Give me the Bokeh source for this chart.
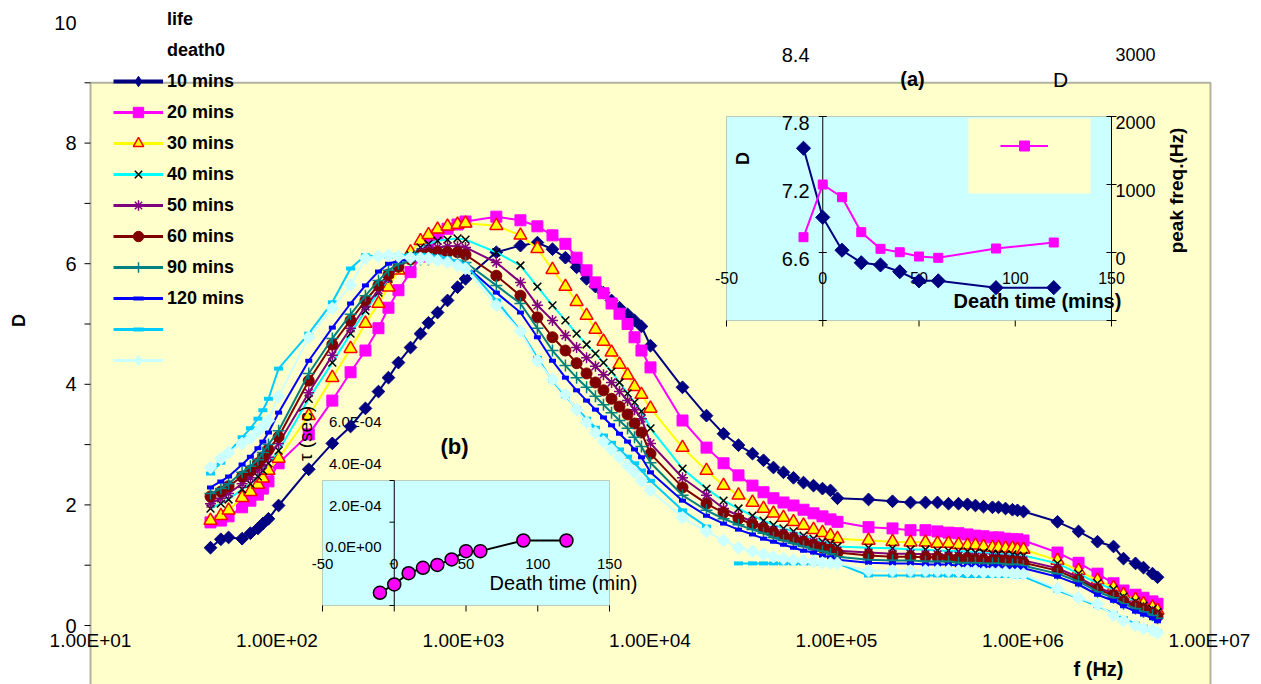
from math import pi, nan
import numpy as np
from bokeh.plotting import figure
from bokeh.models import (Range1d, LinearScale, BoxAnnotation, Legend, LegendItem)
from bokeh.core.properties import value
from bokeh.embed import file_html
from bokeh.resources import INLINE

FONT = "Liberation Sans"

# ------------------------------------------------------------------ data
# measuring frequencies (Hz): low sweep, mid sweep, high sweep
freq_hz = [44, 50, 55, 65, 72, 79, 84, 90, 102, 148, 198, 248, 298, 350, 396, 448, 520, 588, 649, 726, 821, 929, 1025,
           1500, 2020, 2490, 3000, 3520, 4040, 4570, 5100, 5630, 6220, 6860, 7580, 8260, 9000, 10060, 14940, 20090,
           24790, 29820, 35440, 40610, 45920, 51960, 58800, 66550, 75280, 84120, 92850, 101200,
           148500, 199700, 249400, 300000, 348000, 398600, 451000, 504000, 556000, 614000, 686000, 739000, 806000,
           878000, 934000, 1006000, 1531000, 1985000, 2509000, 3057000, 3459000, 4011000, 4426000, 4947000, 5263000]

d_10min = [1.29, 1.43, 1.46, 1.44, 1.53, 1.61, 1.69, 1.77, 1.99, 2.59, 3.02, 3.30, 3.60, 3.88, 4.11, 4.36, 4.61, 4.84, 5.02, 5.19, 5.39, 5.61, 5.75,
           6.19, 6.30, 6.35, 6.24, 6.10, 5.94, 5.75, 5.62, 5.52, 5.39, 5.27, 5.16, 5.06, 4.96, 4.64, 3.95, 3.48, 3.18, 2.99, 2.85, 2.74, 2.62, 2.54, 2.45, 2.37, 2.32, 2.27, 2.24, 2.11,
           2.09, 2.06, 2.04, 2.04, 2.04, 2.02, 2.02, 2.01, 1.99, 1.97, 1.96, 1.96, 1.94, 1.92, 1.91, 1.89, 1.72, 1.56, 1.39, 1.31, 1.11, 1.03, 0.96, 0.86, 0.80]
d_20min = [1.71, 1.74, 1.81, 1.96, 2.07, 2.17, 2.27, 2.39, 2.69, 3.17, 3.73, 4.20, 4.56, 4.93, 5.27, 5.56, 5.86, 6.12, 6.32, 6.48, 6.58, 6.65, 6.70,
           6.78, 6.72, 6.62, 6.47, 6.33, 6.10, 5.89, 5.69, 5.51, 5.34, 5.17, 5.00, 4.78, 4.56, 4.28, 3.40, 2.95, 2.69, 2.49, 2.32, 2.21, 2.11, 2.04, 1.99, 1.92, 1.86, 1.81, 1.76, 1.72,
           1.63, 1.61, 1.58, 1.58, 1.56, 1.54, 1.53, 1.51, 1.49, 1.48, 1.46, 1.46, 1.44, 1.43, 1.43, 1.41, 1.21, 1.04, 0.86, 0.70, 0.58, 0.51, 0.46, 0.40, 0.36]
d_30min = [1.74, 1.82, 1.91, 2.12, 2.22, 2.34, 2.44, 2.57, 2.77, 3.48, 4.11, 4.59, 5.01, 5.34, 5.61, 5.89, 6.19, 6.38, 6.48, 6.57, 6.62, 6.65, 6.67,
           6.63, 6.47, 6.25, 5.90, 5.62, 5.37, 5.14, 4.91, 4.71, 4.53, 4.33, 4.15, 3.96, 3.83, 3.60, 2.95, 2.57, 2.32, 2.16, 2.04, 1.94, 1.86, 1.79, 1.72, 1.66, 1.59, 1.54, 1.49, 1.44,
           1.41, 1.39, 1.38, 1.38, 1.36, 1.36, 1.34, 1.33, 1.33, 1.31, 1.29, 1.29, 1.28, 1.28, 1.26, 1.26, 1.08, 0.91, 0.75, 0.63, 0.51, 0.43, 0.36, 0.30, 0.25]
d_40min = [1.94, 2.02, 2.09, 2.26, 2.35, 2.47, 2.57, 2.69, 2.90, 3.76, 4.36, 4.84, 5.22, 5.52, 5.75, 5.95, 6.14, 6.27, 6.33, 6.38, 6.40, 6.42, 6.40,
           6.19, 5.97, 5.62, 5.31, 5.06, 4.84, 4.66, 4.51, 4.36, 4.21, 4.03, 3.85, 3.70, 3.55, 3.27, 2.60, 2.27, 2.07, 1.94, 1.82, 1.74, 1.67, 1.61, 1.56, 1.49, 1.44, 1.39, 1.36, 1.31,
           1.29, 1.28, 1.26, 1.26, 1.24, 1.24, 1.23, 1.23, 1.21, 1.21, 1.19, 1.19, 1.18, 1.18, 1.16, 1.16, 1.03, 0.86, 0.70, 0.60, 0.48, 0.40, 0.33, 0.27, 0.22]
d_50min = [2.02, 2.11, 2.19, 2.35, 2.45, 2.57, 2.67, 2.79, 3.02, 3.86, 4.48, 4.93, 5.29, 5.56, 5.77, 5.94, 6.09, 6.19, 6.24, 6.27, 6.29, 6.29, 6.27,
           6.02, 5.69, 5.31, 5.06, 4.81, 4.61, 4.44, 4.30, 4.16, 4.03, 3.88, 3.73, 3.58, 3.43, 3.02, 2.45, 2.16, 1.94, 1.82, 1.72, 1.64, 1.58, 1.53, 1.48, 1.43, 1.38, 1.33, 1.29, 1.24,
           1.21, 1.19, 1.19, 1.18, 1.18, 1.16, 1.16, 1.14, 1.14, 1.13, 1.13, 1.11, 1.11, 1.09, 1.09, 1.08, 0.95, 0.80, 0.63, 0.53, 0.43, 0.35, 0.30, 0.23, 0.18]
d_60min = [2.14, 2.22, 2.31, 2.47, 2.57, 2.69, 2.79, 2.92, 3.13, 4.06, 4.66, 5.06, 5.39, 5.64, 5.82, 5.95, 6.07, 6.14, 6.17, 6.19, 6.19, 6.19, 6.15,
           5.80, 5.47, 5.11, 4.78, 4.56, 4.35, 4.18, 4.03, 3.90, 3.76, 3.63, 3.50, 3.35, 3.20, 2.85, 2.29, 2.02, 1.87, 1.77, 1.68, 1.61, 1.54, 1.49, 1.44, 1.39, 1.34, 1.29, 1.26, 1.21,
           1.16, 1.14, 1.14, 1.13, 1.13, 1.11, 1.11, 1.11, 1.09, 1.09, 1.08, 1.08, 1.08, 1.06, 1.06, 1.04, 0.91, 0.76, 0.60, 0.50, 0.40, 0.32, 0.27, 0.20, 0.15]
d_90min = [2.19, 2.27, 2.35, 2.54, 2.64, 2.75, 2.87, 3.00, 3.23, 4.18, 4.76, 5.16, 5.47, 5.72, 5.89, 6.00, 6.05, 6.07, 6.07, 6.07, 6.07, 6.05, 6.02,
           5.64, 5.34, 4.93, 4.56, 4.31, 4.11, 3.95, 3.80, 3.66, 3.53, 3.40, 3.27, 3.12, 2.97, 2.70, 2.16, 1.91, 1.77, 1.67, 1.59, 1.53, 1.46, 1.41, 1.36, 1.31, 1.26, 1.23, 1.19, 1.14,
           1.09, 1.08, 1.08, 1.06, 1.06, 1.06, 1.04, 1.04, 1.04, 1.03, 1.03, 1.03, 1.01, 1.01, 1.01, 0.99, 0.86, 0.73, 0.56, 0.46, 0.36, 0.28, 0.23, 0.17, 0.12]
d_120min = [2.29, 2.39, 2.47, 2.67, 2.80, 2.94, 3.05, 3.20, 3.53, 4.39, 4.94, 5.34, 5.64, 5.87, 6.00, 6.05, 6.07, 6.07, 6.07, 6.07, 6.05, 6.02, 5.97,
            5.52, 5.19, 4.78, 4.39, 4.11, 3.90, 3.73, 3.58, 3.45, 3.32, 3.18, 3.05, 2.92, 2.79, 2.54, 2.07, 1.82, 1.69, 1.59, 1.51, 1.44, 1.39, 1.34, 1.29, 1.24, 1.21, 1.16, 1.13, 1.09,
            1.04, 1.03, 1.03, 1.01, 1.01, 1.01, 0.99, 0.99, 0.99, 0.98, 0.98, 0.98, 0.96, 0.96, 0.96, 0.95, 0.81, 0.68, 0.51, 0.41, 0.32, 0.23, 0.18, 0.12, 0.07]
d_extra1 = [2.52, 2.70, 2.87, 3.12, 3.27, 3.43, 3.57, 3.76, 4.26, 4.84, 5.36, 5.92, 6.14, 6.12, 6.12, 6.14, 6.15, 6.15, 6.14, 6.12, 6.09, 6.04, 5.99,
            5.39, 4.89, 4.44, 4.06, 3.80, 3.60, 3.43, 3.28, 3.15, 3.03, 2.92, 2.80, 2.69, 2.57, 2.40, 1.91, 1.64, nan, 1.03, 1.03, 1.03, 1.03, 1.03, 1.03, 1.03, 1.03, 1.03, 1.03, 1.03,
            0.83, 0.83, 0.83, 0.83, 0.83, 0.83, 0.83, 0.82, 0.82, 0.82, 0.82, 0.82, 0.82, 0.82, 0.81, 0.81, 0.58, 0.45, 0.32, 0.20, 0.12, 0.03, -0.02, -0.07, -0.10]
d_extra2 = [2.62, 2.77, 2.87, 3.02, 3.10, 3.22, 3.30, 3.40, 3.80, 4.78, 5.26, 5.65, 6.09, 6.12, 6.14, 6.12, 6.10, 6.09, 6.09, 6.05, 6.02, 5.97, 5.92,
            5.31, 4.88, 4.39, 4.08, 3.83, 3.58, 3.37, 3.20, 3.05, 2.92, 2.79, 2.65, 2.54, 2.40, 2.24, 1.79, 1.56, 1.41, 1.29, 1.23, 1.18, 1.14, 1.11, 1.09, 1.08, 1.06, 1.04, 1.03, 1.03,
            0.91, 0.91, 0.91, 0.91, 0.91, 0.91, 0.90, 0.90, 0.90, 0.88, 0.88, 0.88, 0.88, 0.86, 0.86, 0.85, 0.61, 0.46, 0.35, 0.17, 0.08, 0.00, -0.05, -0.08, -0.12]

series_labels = ["10 mins", "20 mins", "30 mins", "40 mins", "50 mins", "60 mins", "90 mins", "120 mins", " ", " "]
series_values = [d_10min, d_20min, d_30min, d_40min, d_50min, d_60min, d_90min, d_120min, d_extra1, d_extra2]
empty_labels = ["life", "death0"]

main_xtick_values = [1e1, 1e2, 1e3, 1e4, 1e5, 1e6, 1e7]
main_xtick_labels = ["1.00E+01", "1.00E+02", "1.00E+03", "1.00E+04", "1.00E+05", "1.00E+06", "1.00E+07"]
main_ytick_values = [0, 1, 2, 3, 4, 5, 6, 7, 8, 9]
main_ylabel_values = [0, 2, 4, 6, 8, 10]
main_ymax_area = 9

# inset (a): D and peak frequency vs death time
death_time = [-10, 0, 10, 20, 30, 40, 50, 60, 90, 120]
inset_d = [7.52, 6.91, 6.62, 6.51, 6.49, 6.43, 6.35, 6.35, 6.29, 6.29]
inset_peak_hz = [225, 1000, 813, 299, 54, 4, -59, -78, 59, 147]
a_xlim, a_dlim, a_hlim = (-50, 150), (6.0, 7.8), (-1000, 2000)
a_xticks = [-50, 0, 50, 100, 150]
a_dticks = [8.4, 7.8, 7.2, 6.6]
a_hticks = [3000, 2000, 1000, 0]

# inset (b): relaxation time vs death time
inset_tau = [-1.39e-4, -0.99e-4, -0.45e-4, -0.19e-4, -0.05e-4, 0.21e-4, 0.61e-4, 0.61e-4, 1.12e-4, 1.12e-4]
b_xlim, b_tlim = (-50, 150), (-2e-4, 4e-4)
b_xticks = [-50, 0, 50, 100, 150]
b_tticks = [6e-4, 4e-4, 2e-4, 0.0]
b_tlabels = ["6.0E-04", "4.0E-04", "2.0E-04", "0.0E+00"]

# ------------------------------------------------------------------ layout (page pixels)
W, H = 1261, 684


def lin(v, a0, a1, b0, b1):
    return b0 + (v - a0) * (b1 - b0) / (a1 - a0)


def mx(px):            # main log-frequency axis calibration
    return 10 ** lin(px, 90, 276.5, 1, 2)


def my(py):
    return lin(py, 625, 564.7, 0, 1)


A_L, A_R, A_T, A_B = 726, 1111, 116, 320
def ax(px): return lin(px, A_L, A_R, a_xlim[0], a_xlim[1])
def ax_px(v): return lin(v, a_xlim[0], a_xlim[1], A_L, A_R)
def ad(py): return lin(py, A_B, A_T, a_dlim[0], a_dlim[1])
def ad_px(v): return lin(v, a_dlim[0], a_dlim[1], A_B, A_T)
def ah(py): return lin(py, A_B, A_T, a_hlim[0], a_hlim[1])
def ah_px(v): return lin(v, a_hlim[0], a_hlim[1], A_B, A_T)

B_L, B_R, B_T, B_B = 322, 609, 480, 605
def bx(px): return lin(px, B_L, B_R, b_xlim[0], b_xlim[1])
def bt(py): return lin(py, B_B, B_T, b_tlim[0], b_tlim[1])
def bt_px(v): return lin(v, b_tlim[0], b_tlim[1], B_B, B_T)


p = figure(width=W, height=H, x_axis_type="log",
           x_range=Range1d(mx(0), mx(W)), y_range=Range1d(my(H), my(0)),
           x_axis_location=None, y_axis_location=None, output_backend="svg", toolbar_location=None,
           min_border_left=0, min_border_right=0, min_border_top=0, min_border_bottom=0,
           outline_line_color=None, background_fill_color="white", border_fill_color="white")
p.grid.visible = False

p.extra_x_ranges = {"ax": Range1d(ax(0), ax(W)), "bx": Range1d(bx(0), bx(W))}
p.extra_x_scales = {"ax": LinearScale(), "bx": LinearScale()}
p.extra_y_ranges = {"ad": Range1d(ad(H), ad(0)), "ah": Range1d(ah(H), ah(0)), "bt": Range1d(bt(H), bt(0))}
p.extra_y_scales = {"ad": LinearScale(), "ah": LinearScale(), "bt": LinearScale()}

x_lo, x_hi = main_xtick_values[0], mx(1210)

# plot-area backgrounds
p.add_layout(BoxAnnotation(left=x_lo, right=x_hi, top=main_ymax_area, bottom=my(H + 10),
                           fill_color="#FFFFCC", fill_alpha=1,
                           line_color="black", line_width=2, level="underlay"))
p.add_layout(BoxAnnotation(left=a_xlim[0], right=a_xlim[1], bottom=a_dlim[0], top=a_dlim[1],
                           x_range_name="ax", y_range_name="ad", fill_color="#CCFFFF", fill_alpha=1,
                           line_color="#555555", line_width=1, level="underlay"))
p.add_layout(BoxAnnotation(left=ax(968), right=ax(1090), bottom=ad(193), top=ad(118),
                           x_range_name="ax", y_range_name="ad", fill_color="#FFFFCC", fill_alpha=1,
                           line_color=None, level="underlay"))
p.add_layout(BoxAnnotation(left=b_xlim[0], right=b_xlim[1], bottom=b_tlim[0], top=b_tlim[1],
                           x_range_name="bx", y_range_name="bt", fill_color="#CCFFFF", fill_alpha=1,
                           line_color="#555555", line_width=1, level="underlay"))


def txt(xs, ys, texts, xr="default", yr="default", size="20px", bold=False, align="center", angle=0.0):
    p.text(x=xs, y=ys, text=texts, x_range_name=xr, y_range_name=yr,
           text_font=value(FONT), text_font_size=value(size),
           text_font_style="bold" if bold else "normal", text_align=align,
           text_baseline="middle", angle=angle, text_color="black")


# ---------------- main axes (drawn by hand around the misplaced Excel plot area)
n_y = len(main_ytick_values)
p.segment(x0=[mx(84)] * n_y, y0=main_ytick_values, x1=[x_lo] * n_y, y1=main_ytick_values,
          line_color="black", line_width=1)
txt([mx(76)] * len(main_ylabel_values), main_ylabel_values, [str(v) for v in main_ylabel_values],
    size="20px", align="right")
txt(main_xtick_values, [my(640)] * len(main_xtick_values), main_xtick_labels, size="19px")
txt([mx(1098)], [my(668)], ["f (Hz)"], size="20px", bold=True)
txt([mx(18)], [my(320)], ["D"], size="18px", bold=True, angle=pi / 2)

# ---------------- inset (a) axes
p.segment(x0=[0, a_xlim[1]], y0=[a_dlim[0]] * 2, x1=[0, a_xlim[1]], y1=[a_dlim[1]] * 2,
          x_range_name="ax", y_range_name="ad", line_color="black", line_width=1)
p.segment(x0=a_xticks, y0=[a_dlim[0]] * 5, x1=a_xticks, y1=[ad(A_B + 6)] * 5,
          x_range_name="ax", y_range_name="ad", line_color="black", line_width=1)
dt_in = [v for v in a_dticks if v <= a_dlim[1]] + [a_dlim[0]]
p.segment(x0=[ax(ax_px(0) - 4)] * len(dt_in), y0=dt_in, x1=[ax(ax_px(0) + 4)] * len(dt_in), y1=dt_in,
          x_range_name="ax", y_range_name="ad", line_color="black", line_width=1)
ht_in = [v for v in a_hticks if v <= a_hlim[1]] + [a_hlim[0]]
p.segment(x0=[ax(A_R - 5)] * len(ht_in), y0=ht_in, x1=[ax(A_R + 5)] * len(ht_in), y1=ht_in,
          x_range_name="ax", y_range_name="ah", line_color="black", line_width=1)
txt([ax(809)] * 4, [ad(ad_px(v) + 6) for v in a_dticks], [f"{v:.1f}" for v in a_dticks],
    "ax", "ad", "20px", align="right")
txt([ax(1115)] * 4, [ah(ah_px(v) + 6) for v in a_hticks], [str(v) for v in a_hticks],
    "ax", "ah", "18px", align="left")
txt(a_xticks, [ad(277)] * 5, [str(v) for v in a_xticks], "ax", "ad", "16px")
txt([ax(742)], [ad(158)], ["D"], "ax", "ad", "18px", bold=True, angle=pi / 2)
txt([ax(1176)], [ad(190)], ["peak freq.(Hz)"], "ax", "ad", "19px", bold=True, angle=pi / 2)
txt([ax(1037)], [ad(300)], ["Death time (mins)"], "ax", "ad", "20px", bold=True)
txt([ax(912)], [ad(78)], ["(a)"], "ax", "ad", "20px", bold=True)
txt([ax(1060)], [ad(79)], ["D"], "ax", "ad", "21px")

# ---------------- inset (b) axes
p.segment(x0=[0], y0=[b_tlim[0]], x1=[0], y1=[b_tlim[1]], x_range_name="bx", y_range_name="bt",
          line_color="black", line_width=1)
p.segment(x0=b_xticks, y0=[b_tlim[0]] * 5, x1=b_xticks, y1=[bt(B_B + 6)] * 5,
          x_range_name="bx", y_range_name="bt", line_color="black", line_width=1)
tt_in = [v for v in b_tticks if v <= b_tlim[1]] + [b_tlim[0]]
p.segment(x0=[bx(389)] * len(tt_in), y0=tt_in, x1=[0] * len(tt_in), y1=tt_in,
          x_range_name="bx", y_range_name="bt", line_color="black", line_width=1)
txt([bx(381)] * 4, [bt(bt_px(v) - 17) for v in b_tticks], b_tlabels, "bx", "bt", "15px", align="right")
txt(b_xticks, [bt(563)] * 5, [str(v) for v in b_xticks], "bx", "bt", "15px")
txt([bx(454)], [bt(446)], ["(b)"], "bx", "bt", "22px", bold=True)
txt([bx(563)], [bt(582)], ["Death time (min)"], "bx", "bt", "20px")

# ---------------- main series
STYLES = [
    dict(line="#000080", marker="square", size=9, angle=pi / 4, fill="#000080", mline="#000080", mw=1, leg="diamond", lw=4),
    dict(line="#FF00FF", marker="square", size=11, angle=0, fill="#FF00FF", mline="#FF00FF", mw=1, leg=None, lw=3),
    dict(line="#FFFF00", marker="triangle", size=13, angle=0, fill="#FFFF00", mline="#FF0000", mw=1.5, leg=None, lw=3),
    dict(line="#00FFFF", marker="x", size=11, angle=0, fill=None, mline="#000000", mw=1.5, leg=None, lw=3),
    dict(line="#800080", marker="asterisk", size=11, angle=0, fill=None, mline="#800080", mw=1.5, leg=None, lw=3),
    dict(line="#800000", marker="circle", size=11, angle=0, fill="#800000", mline="#800000", mw=1, leg=None, lw=3),
    dict(line="#008080", marker="cross", size=12, angle=0, fill=None, mline="#008080", mw=1.5, leg=None, lw=3),
    dict(line="#0000FF", marker="dash", size=7, angle=0, fill=None, mline="#0000FF", mw=4, leg=None, lw=3),
    dict(line="#00CCFF", marker="dash", size=9, angle=0, fill=None, mline="#00CCFF", mw=4, leg=None, lw=3),
    dict(line="#CCFFFF", marker="square", size=9, angle=pi / 4, fill="#CCFFFF", mline="#CCFFFF", mw=1, leg="diamond", lw=3),
]

fx = np.array(freq_hz, dtype=float)
items = []
for lab in empty_labels:
    r = p.line([], [], line_alpha=0)
    items.append(LegendItem(label=lab, renderers=[r]))
for lab, vals, st in zip(series_labels, series_values, STYLES):
    yv = np.array(vals, dtype=float)
    p.line(fx, yv, line_color=st["line"], line_width=2)
    sr = p.scatter(fx, yv, marker=st["marker"], size=st["size"], angle=st["angle"],
                   fill_color=st["fill"], line_color=st["mline"], line_width=st["mw"])
    # legend swatches: a one-point line (draws nothing) with the swatch thickness, and,
    # for rotated squares, an upright diamond that sits hidden inside the first marker
    leg_line = p.line(fx[:1], yv[:1], line_color=st["line"], line_width=st["lw"])
    if st["leg"]:
        sr = p.scatter(fx[:1], yv[:1], marker=st["leg"], size=st["size"] + 3, fill_color=st["fill"],
                       line_color=st["mline"], line_width=st["mw"])
    items.append(LegendItem(label=lab, renderers=[leg_line, sr]))

legend = Legend(items=items, location=(113, 311), glyph_width=50, glyph_height=26, label_height=24,
                spacing=5, padding=0, margin=0, label_standoff=4, border_line_alpha=0,
                background_fill_alpha=0, label_text_font=FONT, label_text_font_style="bold",
                label_text_font_size="18px", label_text_color="black")
p.add_layout(legend)

# inset (b) axis title sits over the curves
txt([bx(305)], [bt(433)], ["\u03c4 (sec)"], "bx", "bt", "19px", angle=pi / 2)

# ---------------- inset data
p.line(death_time, inset_d, x_range_name="ax", y_range_name="ad", line_color="#000080", line_width=2)
p.scatter(death_time, inset_d, x_range_name="ax", y_range_name="ad", marker="square", angle=pi / 4,
          size=10, fill_color="#000080", line_color="#000080")
pl = p.line(death_time, inset_peak_hz, x_range_name="ax", y_range_name="ah", line_color="#FF00FF", line_width=2)
ps = p.scatter(death_time, inset_peak_hz, x_range_name="ax", y_range_name="ah", marker="square",
               size=9, fill_color="#FF00FF", line_color="#FF00FF")
p.add_layout(Legend(items=[LegendItem(label=" ", renderers=[pl, ps])], location=(1000, 526),
                    glyph_width=48, glyph_height=25, label_height=25, padding=0, margin=0, spacing=0,
                    label_standoff=0, border_line_alpha=0, background_fill_alpha=0,
                    label_text_font=FONT, label_text_font_size="12px"))

p.line(death_time, inset_tau, x_range_name="bx", y_range_name="bt", line_color="black", line_width=2)
p.scatter(death_time, inset_tau, x_range_name="bx", y_range_name="bt", marker="circle", size=13,
          fill_color="#FF00FF", line_color="black", line_width=1.5)

open("out.html", "w").write(file_html(p, INLINE))
